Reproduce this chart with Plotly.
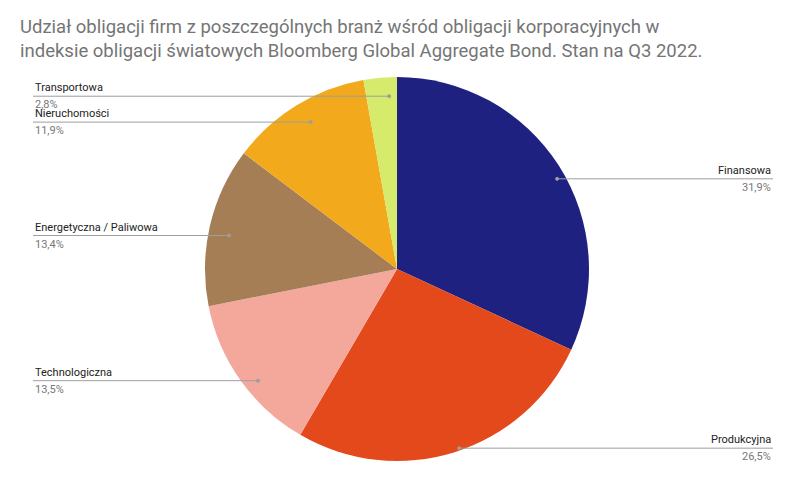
import math
import plotly.graph_objects as go

labels = ["Finansowa", "Produkcyjna", "Technologiczna", "Energetyczna / Paliwowa", "Nieruchomości", "Transportowa"]
values = [31.9, 26.5, 13.5, 13.4, 11.9, 2.8]
colors = ["#1f2180", "#e4491b", "#f4a89c", "#a67e56", "#f2a91c", "#d6ea6b"]
value_text = ["31,9%", "26,5%", "13,5%", "13,4%", "11,9%", "2,8%"]

W, H = 792, 480
cx, cy, R = 397, 268, 192
dx, dy = -8, -7  # compensation for plotly's domain placement

fig = go.Figure(go.Pie(
    labels=labels, values=values, sort=False, direction="clockwise", rotation=0,
    marker=dict(colors=colors, line=dict(color="white", width=0)),
    textinfo="none", hoverinfo="label+percent", showlegend=False,
    domain=dict(x=[(cx + dx - R) / W, (cx + dx + R) / W],
                y=[(H - cy - dy - R) / H, (H - cy - dy + R) / H]),
))

total = sum(values)
ann, shapes = [], []
cum = 0
for lab, v, vt in zip(labels, values, value_text):
    mid = (cum + v / 2) / total * 2 * math.pi
    cum += v
    px = cx + 0.94 * R * math.sin(mid)
    py = cy - 0.94 * R * math.cos(mid)
    right = math.sin(mid) > 0
    lx = 765 if right else 25
    shapes.append(dict(type="line", xref="paper", yref="paper",
                       x0=px / W, y0=1 - py / H, x1=lx / W, y1=1 - py / H,
                       line=dict(color="#9e9e9e", width=1)))
    shapes.append(dict(type="circle", xref="paper", yref="paper",
                       x0=(px - 1.5) / W, x1=(px + 1.5) / W, y0=1 - (py + 1.5) / H, y1=1 - (py - 1.5) / H,
                       line=dict(color="#9e9e9e", width=1), fillcolor="#9e9e9e"))
    anchor = "right" if right else "left"
    ann.append(dict(xref="paper", yref="paper", x=lx / W, y=1 - py / H, text=lab,
                    xanchor=anchor, yanchor="bottom", showarrow=False,
                    font=dict(size=11, color="#222222", family="Roboto")))
    ann.append(dict(xref="paper", yref="paper", x=lx / W, y=1 - py / H, text=vt,
                    xanchor=anchor, yanchor="top", showarrow=False,
                    font=dict(size=11, color="#777777", family="Roboto")))

ann.append(dict(xref="paper", yref="paper", x=10 / W, y=1 - 6 / H, xanchor="left", yanchor="top",
                showarrow=False, align="left",
                text="Udział obligacji firm z poszczególnych branż wśród obligacji korporacyjnych w<br>indeksie obligacji światowych Bloomberg Global Aggregate Bond. Stan na Q3 2022.",
                font=dict(size=18.5, color="#757575", family="Roboto")))

fig.update_layout(
    width=W, height=H, margin=dict(l=0, r=0, t=0, b=0),
    paper_bgcolor="white", plot_bgcolor="white",
    annotations=ann, shapes=shapes,
)
fig.write_html("out.html")
